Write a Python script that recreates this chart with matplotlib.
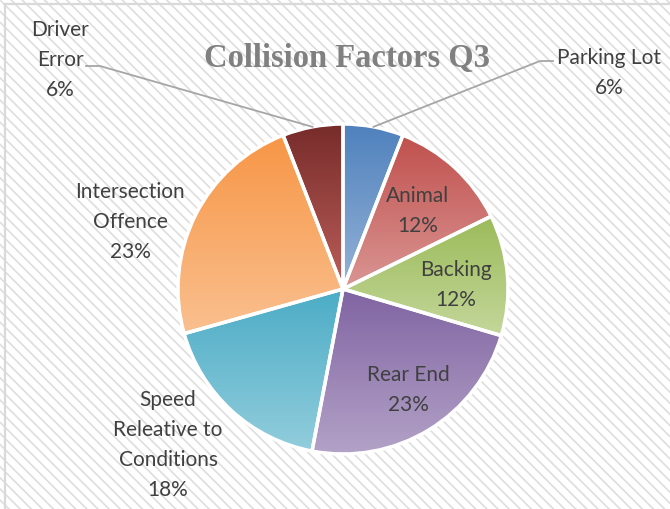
import numpy as np
import matplotlib
matplotlib.use('Agg')
import matplotlib.pyplot as plt
from matplotlib.patches import Rectangle
from matplotlib.colors import to_rgb

# data
categorias = ['Parking Lot', 'Animal', 'Backing', 'Rear End',
              'Speed\nReleative to\nConditions', 'Intersection\nOffence', 'Driver\nError']
valores = [5.9, 11.8, 11.8, 23.4, 17.6, 23.4, 5.9]

# colores (arriba -> abajo del degradado)
color_arriba = ['#4F81BD', '#C0504D', '#9BBB59', '#8064A2', '#4BACC6', '#F79646', '#772C2A']
color_abajo = ['#95B3D7', '#DA9694', '#C4D79B', '#B3A2C7', '#92CDDC', '#FAC090', '#BC5E5A']

# posiciones de las etiquetas (en pixeles, origen arriba-izquierda)
pos_etiquetas = [(609, 73), (418, 211), (456, 285), (408, 390),
                 (168, 445), (130, 222), (60, 60)]

W, H = 670, 510
cx, cy, r = 343, H - 290, 165

fig = plt.figure(figsize=(6.7, 5.1), dpi=100)
ax = fig.add_axes([0, 0, 1, 1])

# fondo rayado
plt.rcParams['hatch.linewidth'] = 1.2
fondo = Rectangle((0, 0), W, H, facecolor='white', edgecolor='#DEDEDE',
                  hatch='\\\\\\', linewidth=0, zorder=0)
ax.add_patch(fondo)
ax.plot([5, 5], [0, H - 5], color='#D9D9D9', lw=1.6, zorder=1)
ax.plot([5, W], [H - 5, H - 5], color='#D9D9D9', lw=1.6, zorder=1)

wedges, _ = ax.pie(valores, startangle=90, counterclock=False, center=(cx, cy),
                   radius=r, frame=True,
                   wedgeprops=dict(facecolor='none', edgecolor='white', linewidth=2.5))

# degradado vertical por porcion
for w, c1, c2 in zip(wedges, color_arriba, color_abajo):
    w.set_zorder(5)
    t = np.radians(np.linspace(w.theta1, w.theta2, 200))
    xs = np.concatenate([[cx], cx + r * np.cos(t)])
    ys = np.concatenate([[cy], cy + r * np.sin(t)])
    y0, y1 = ys.min(), ys.max()
    n = 256
    f = np.linspace(0, 1, n)[:, None]
    grad = (1 - f) * np.array(to_rgb(c2)) + f * np.array(to_rgb(c1))
    img = ax.imshow(grad[:, None, :], extent=[xs.min(), xs.max(), y0, y1],
                    origin='lower', aspect='auto', zorder=3, interpolation='bilinear')
    img.set_clip_path(w)

# etiquetas
for i, (lab, v) in enumerate(zip(categorias, valores)):
    px, py = pos_etiquetas[i]
    ax.text(px, H - py, f'{lab}\n{round(v):d}%', ha='center', va='center',
            fontsize=15, color='#404040', family='Lato', linespacing=1.64, zorder=6)

# lineas guia
def punto_medio(w):
    m = np.radians((w.theta1 + w.theta2) / 2)
    return cx + r * np.cos(m), cy + r * np.sin(m)

x_e, y_e = punto_medio(wedges[6])
ax.plot([86, 100, x_e], [H - 67, H - 67, y_e], color='#A6A6A6', lw=1.3, zorder=6)
x_e, y_e = punto_medio(wedges[0])
ax.plot([553, 540, x_e], [H - 62, H - 62, y_e], color='#A6A6A6', lw=1.3, zorder=6)

ax.text(347, H - 59, 'Collision Factors Q3', ha='center', va='center',
        fontsize=23.5, fontweight='bold', family='Liberation Serif', color='#808080', zorder=6)

ax.set_xlim(0, W)
ax.set_ylim(0, H)
ax.axis('off')

fig.savefig('out.png', dpi=100)
